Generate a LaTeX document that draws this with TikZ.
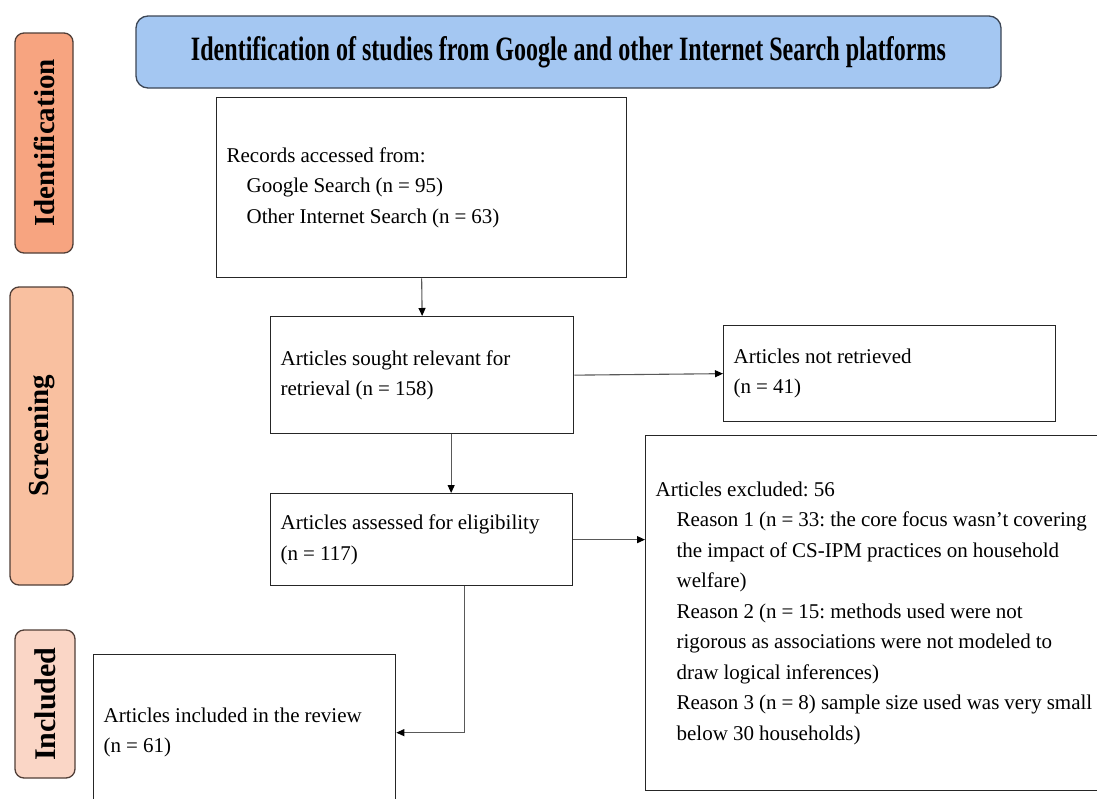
\documentclass[tikz,border=0pt]{standalone}
\usepackage{fontspec}
\setmainfont{Liberation Serif}
\usetikzlibrary{arrows.meta,calc}
\definecolor{titleblue}{RGB}{164,199,242}
\definecolor{titleborder}{RGB}{60,70,85}
\definecolor{sideborder}{RGB}{80,62,55}
\definecolor{identc}{RGB}{247,164,128}
\definecolor{screenc}{RGB}{249,192,160}
\definecolor{inclc}{RGB}{250,214,198}
\begin{document}
\begin{tikzpicture}[x=1pt,y=-1pt,
  box/.style={draw=black!85, line width=1.3pt, anchor=north west, align=left,
    inner xsep=10pt, inner ysep=0pt, fill=white,
    font=\fontsize{21}{30.5}\selectfont,
    execute at begin node={\spaceskip=0.24em\xspaceskip=0.24em}},
  side/.style={draw=sideborder, line width=1.3pt, rounded corners=9pt, rotate=90,
    inner sep=0pt, font=\fontsize{29}{30}\selectfont\bfseries},
  conn/.style={draw=black!65, line width=1.1pt,
    -{Triangle[length=8pt,width=7pt,color=black]}}
]
\fill[white] (0,0) rectangle (1097,798);
\useasboundingbox (0,0) rectangle (1097,798);

% title
\node[draw=titleborder, fill=titleblue, rounded corners=12pt, line width=1.3pt,
  minimum width=865, minimum height=72, inner sep=0pt] (title) at (568.5,52)
  {\resizebox{755pt}{24pt}{\bfseries Identification of studies from Google and other Internet Search platforms}};

% side labels
\node[side, fill=identc, minimum width=220, minimum height=58] (sid) at (44,143) {Identification};
\node[side, fill=screenc, minimum width=298, minimum height=63] (sscr) at (41.5,436) {Screening};
\node[side, fill=inclc, minimum width=148, minimum height=60, font=\fontsize{30}{31}\selectfont\bfseries] (sinc) at (45,704) {Included};

% boxes
\node[box, minimum width=410, minimum height=180, text width=390] (rec) at (216,97)
  {Records accessed from:\\\hspace*{20pt}Google Search (n = 95)\\\hspace*{20pt}Other Internet Search (n = 63)};
\node[box, minimum width=303, minimum height=117, text width=283] (sought) at (270,316)
  {Articles sought relevant for\\retrieval (n = 158)};
\node[box, minimum width=332, minimum height=96, text width=312] (notret) at (723,325)
  {Articles not retrieved\\(n = 41)};
\node[box, minimum width=302, minimum height=92, text width=282] (assess) at (270,493)
  {Articles assessed for eligibility\\(n = 117)};
\node[box, minimum width=460, minimum height=355, text width=440] (excl) at (645,435)
  {\mbox{Articles excluded: 56}\\
   \hspace*{21pt}\mbox{Reason 1 (n = 33: the core focus wasn’t covering}\\
   \hspace*{21pt}\mbox{the impact of CS-IPM practices on household}\\
   \hspace*{21pt}\mbox{welfare)}\\
   \hspace*{21pt}\mbox{Reason 2 (n = 15: methods used were not}\\
   \hspace*{21pt}\mbox{rigorous as associations were not modeled to}\\
   \hspace*{21pt}\mbox{draw logical inferences)}\\
   \hspace*{21pt}\mbox{Reason 3 (n = 8) sample size used was very small}\\
   \hspace*{21pt}\mbox{below 30 households)}};
\node[box, minimum width=302, minimum height=156, text width=282] (incl) at (93,654)
  {Articles included in the review\\(n = 61)};

% connectors
\draw[conn] (rec.south) -- (sought.north);
\draw[conn] (sought.east) -- (notret.west);
\draw[conn] ([xshift=29pt]sought.south) -- ([xshift=29pt]sought.south |- assess.north);
\draw[conn] (assess.east) -- (assess.east -| excl.west);
\draw[conn] ([xshift=43pt]assess.south) |- (incl.east);
\end{tikzpicture}
\end{document}
